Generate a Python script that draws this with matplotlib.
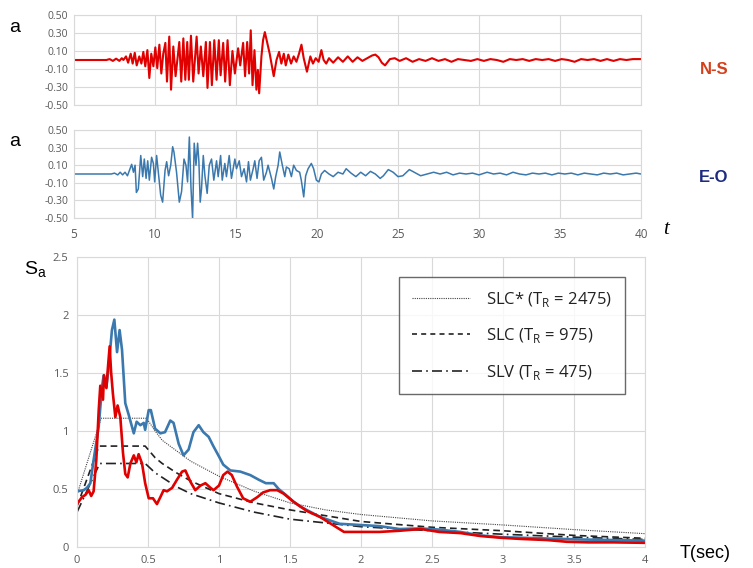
import matplotlib
matplotlib.use("Agg")
import matplotlib.pyplot as plt
from matplotlib.lines import Line2D

# ---------------- data ----------------
ns_t = [5.0, 7.0, 7.2, 7.4, 7.6, 7.8, 7.95, 8.05, 8.21, 8.34, 8.50, 8.62, 8.75, 8.87, 9.03, 9.16,
        9.28, 9.40, 9.53, 9.65, 9.77, 9.90, 10.02, 10.14, 10.27, 10.39, 10.51, 10.64, 10.74,
        10.88, 10.99, 11.13, 11.27, 11.42, 11.50, 11.62, 11.75, 11.87, 11.99, 12.09, 12.22,
        12.36, 12.46, 12.57, 12.69, 12.83, 12.98, 13.14, 13.24, 13.39, 13.51, 13.66, 13.80,
        13.94, 14.05, 14.21, 14.33, 14.48, 14.62, 14.78, 14.93, 15.13, 15.26, 15.44, 15.56,
        15.69, 15.81, 15.91, 16.02, 16.14, 16.26, 16.35, 16.43, 16.57, 16.67, 16.78, 16.92,
        17.08, 17.21, 17.33, 17.50, 17.66, 17.80, 17.95, 18.07, 18.23, 18.40, 18.56, 18.73,
        18.89, 19.04, 19.18, 19.38, 19.59, 19.75, 19.92, 20.10, 20.27, 20.41, 20.57, 20.74,
        21.0, 21.3, 21.6, 21.9, 22.2, 22.5, 22.8, 23.1, 23.4, 23.6, 23.8, 24.0, 24.2, 24.5,
        24.8, 25.1, 25.5, 25.9, 26.3, 26.7, 27.1, 27.5, 27.9, 28.3, 28.7, 29.1, 29.5, 29.9,
        30.3, 30.7, 31.1, 31.5, 31.9, 32.3, 32.7, 33.1, 33.5, 33.9, 34.3, 34.7, 35.1, 35.5,
        35.9, 36.3, 36.7, 37.1, 37.5, 37.9, 38.3, 38.7, 39.1, 39.5, 40.0]
ns_a = [0.0, 0.0, 0.01, -0.01, 0.015, -0.01, 0.02, 0.0, 0.04, -0.03, 0.07, -0.04, 0.08, -0.06, 0.04, -0.04,
        0.09, -0.07, 0.11, -0.20, 0.07, -0.07, 0.14, -0.09, 0.17, -0.15, 0.07, 0.19, -0.24,
        0.26, -0.33, 0.15, -0.18, 0.07, 0.20, -0.24, 0.24, -0.22, 0.20, -0.22, 0.27,
        -0.24, 0.0, 0.26, -0.15, 0.15, -0.18, 0.20, -0.31, 0.20, -0.28, 0.22, -0.22,
        0.22, -0.17, 0.19, -0.24, 0.22, -0.28, 0.10, -0.15, 0.13, -0.06, 0.19, -0.18,
        0.20, -0.15, 0.33, -0.28, 0.11, -0.33, -0.11, -0.37, 0.04, 0.22, 0.31, 0.20,
        0.07, -0.06, -0.18, 0.0, 0.09, -0.04, 0.07, -0.06, 0.06, -0.04, 0.04, -0.02,
        0.07, 0.17, 0.02, -0.13, 0.04, -0.04, 0.02, -0.02, 0.11, 0.0, -0.04, 0.02,
        -0.03, 0.03, -0.02, 0.04, -0.02, 0.03, -0.01, 0.02, 0.05, 0.06, 0.03, -0.03, -0.06, 0.01,
        0.02, -0.01, 0.02, -0.02, 0.01, -0.01, 0.02, -0.01, 0.01, -0.02, 0.01, 0.0, -0.01, 0.01,
        -0.01, 0.01, 0.0, -0.02, 0.01, 0.0, 0.01, -0.01, 0.01, 0.0, 0.01, -0.01, 0.01, 0.0,
        -0.02, 0.01, 0.0, 0.01, -0.01, 0.01, -0.01, 0.01, 0.0, 0.01, 0.01]

eo_t = [5.0, 7.3, 7.5, 7.7, 7.85, 8.0, 8.15, 8.3, 8.4, 8.46, 8.56, 8.67, 8.77, 8.85, 8.97, 9.12,
        9.24, 9.34, 9.45, 9.55, 9.65, 9.79, 9.90, 9.98, 10.10, 10.23, 10.35, 10.47, 10.62,
        10.72, 10.84, 10.97, 11.09, 11.17, 11.33, 11.50, 11.64, 11.79, 11.91, 12.01, 12.12,
        12.22, 12.32, 12.42, 12.53, 12.63, 12.71, 12.79, 12.87, 12.98, 13.08, 13.22, 13.35,
        13.49, 13.63, 13.80, 13.90, 14.05, 14.15, 14.31, 14.41, 14.58, 14.72, 14.93, 15.03,
        15.20, 15.34, 15.50, 15.65, 15.77, 15.89, 16.06, 16.16, 16.30, 16.43, 16.57, 16.71,
        16.88, 16.98, 17.19, 17.33, 17.45, 17.60, 17.70, 17.86, 18.01, 18.11, 18.28, 18.42,
        18.56, 18.73, 18.93, 19.03, 19.18, 19.30, 19.45, 19.65, 19.79, 19.96, 20.12, 20.27,
        20.47, 20.74, 21.0, 21.3, 21.6, 21.8, 22.1, 22.4, 22.7, 23.0, 23.3, 23.6, 23.9, 24.1,
        24.4, 24.7, 25.0, 25.3, 25.7, 26.0, 26.4, 26.8, 27.2, 27.6, 28.0, 28.4, 28.8, 29.2,
        29.6, 30.0, 30.5, 30.9, 31.3, 31.7, 32.1, 32.5, 32.9, 33.3, 33.7, 34.1, 34.5, 34.9,
        35.3, 35.7, 36.1, 36.5, 36.9, 37.3, 37.7, 38.1, 38.5, 38.9, 39.3, 39.7, 40.0]
eo_a = [0.0, 0.0, 0.01, -0.01, 0.02, -0.01, 0.02, -0.02, 0.03, 0.06, 0.11, 0.02, 0.10, -0.21, -0.17, 0.21,
        -0.03, 0.17, -0.05, 0.15, -0.07, 0.19, 0.12, -0.09, 0.21, -0.02, -0.24, -0.32, 0.04,
        0.14, -0.02, 0.10, 0.31, 0.25, 0.02, -0.32, -0.20, 0.17, 0.10, -0.09, 0.42,
        -0.15, -0.51, 0.35, 0.10, 0.35, 0.14, -0.32, -0.17, 0.21, -0.02, -0.22, 0.10,
        0.17, -0.07, 0.15, -0.03, 0.21, -0.07, 0.12, -0.03, 0.21, -0.05, 0.17, 0.06,
        0.15, -0.03, 0.06, -0.09, 0.14, -0.07, 0.06, 0.15, -0.05, 0.15, 0.19, -0.07,
        0.02, 0.10, -0.05, -0.17, -0.03, 0.10, 0.25, 0.10, -0.03, 0.08, 0.06, -0.03,
        0.10, 0.04, 0.02, -0.07, -0.26, -0.02, 0.06, 0.12, 0.06, -0.07, -0.09, 0.0,
        0.04, 0.0, -0.03, 0.02, 0.0, 0.06, 0.01, -0.03, 0.02, -0.02, 0.03, 0.0, -0.05, -0.02,
        0.05, 0.02, -0.03, -0.02, 0.05, 0.02, -0.02, 0.0, 0.02, 0.0, 0.02, -0.01, 0.01, 0.0,
        0.01, -0.01, 0.02, 0.0, 0.01, -0.01, 0.02, 0.0, -0.01, 0.01, 0.0, 0.01, -0.01, 0.01,
        0.0, 0.01, -0.01, 0.01, 0.0, -0.01, 0.01, 0.0, 0.01, -0.01, 0.0, 0.01, 0.0]

# response spectra (recorded)
sb_T = [0.0, 0.047, 0.07, 0.094, 0.117, 0.153, 0.176, 0.188, 0.207, 0.223, 0.246, 0.263, 0.282,
        0.30, 0.317, 0.34, 0.364, 0.40, 0.42, 0.446, 0.47, 0.48, 0.505, 0.52, 0.55, 0.587,
        0.62, 0.657, 0.68, 0.716, 0.75, 0.786, 0.82, 0.857, 0.89, 0.927, 0.96, 1.0, 1.03,
        1.08, 1.15, 1.22, 1.28, 1.33, 1.385, 1.42, 1.47, 1.525, 1.57, 1.71, 1.85, 1.99,
        2.13, 2.27, 2.42, 2.55, 2.70, 2.84, 2.98, 3.12, 3.26, 3.40, 3.54, 3.78, 4.0]
sb_Sa = [0.48, 0.49, 0.51, 0.55, 0.75, 1.04, 1.38, 1.48, 1.38, 1.55, 1.87, 1.96, 1.68,
         1.87, 1.70, 1.24, 1.14, 0.98, 1.08, 1.05, 1.07, 1.01, 1.18, 1.18, 1.02, 0.98,
         0.99, 1.09, 1.07, 0.89, 0.79, 0.84, 0.99, 1.05, 0.99, 0.95, 0.87, 0.78, 0.71,
         0.66, 0.65, 0.62, 0.58, 0.55, 0.55, 0.50, 0.45, 0.39, 0.35, 0.26, 0.20, 0.19,
         0.18, 0.155, 0.16, 0.15, 0.13, 0.10, 0.085, 0.08, 0.075, 0.07, 0.065, 0.06, 0.055]

sr_T = [0.0, 0.035, 0.06, 0.082, 0.10, 0.117, 0.136, 0.153, 0.164, 0.183, 0.19, 0.207, 0.218,
        0.23, 0.24, 0.253, 0.27, 0.286, 0.305, 0.324, 0.34, 0.357, 0.376, 0.40, 0.418, 0.434,
        0.458, 0.48, 0.505, 0.535, 0.563, 0.587, 0.61, 0.634, 0.67, 0.704, 0.74, 0.763, 0.80,
        0.833, 0.87, 0.904, 0.94, 0.962, 1.0, 1.03, 1.06, 1.09, 1.127, 1.17, 1.22, 1.27,
        1.31, 1.36, 1.41, 1.455, 1.525, 1.62, 1.71, 1.88, 2.13, 2.27, 2.42, 2.55, 2.70,
        2.84, 2.98, 3.12, 3.31, 3.45, 3.60, 3.78, 4.0]
sr_Sa = [0.37, 0.43, 0.45, 0.49, 0.44, 0.48, 0.75, 1.18, 1.39, 1.27, 1.48, 1.37, 1.55,
         1.73, 1.51, 1.32, 1.12, 1.22, 1.12, 0.81, 0.63, 0.60, 0.72, 0.79, 0.73, 0.80,
         0.72, 0.55, 0.42, 0.42, 0.37, 0.43, 0.49, 0.48, 0.51, 0.58, 0.65, 0.66, 0.56,
         0.49, 0.53, 0.55, 0.51, 0.49, 0.53, 0.62, 0.65, 0.62, 0.52, 0.42, 0.39, 0.43,
         0.47, 0.49, 0.49, 0.46, 0.39, 0.31, 0.26, 0.13, 0.13, 0.14, 0.155, 0.13, 0.12,
         0.095, 0.08, 0.07, 0.06, 0.045, 0.04, 0.04, 0.036]

# code spectra
slcs_T = [0.0, 0.17, 0.49, 0.55, 0.6, 0.7, 0.8, 1.0, 1.25, 1.5, 1.75, 2.0, 2.5, 3.0, 3.5, 4.0]
slcs_Sa = [0.45, 1.11, 1.11, 1.0, 0.92, 0.83, 0.74, 0.61, 0.48, 0.38, 0.32, 0.28, 0.225, 0.19, 0.15, 0.115]
slc_T = [0.0, 0.155, 0.48, 0.55, 0.6, 0.7, 0.8, 1.0, 1.25, 1.5, 2.0, 2.5, 3.0, 3.5, 4.0]
slc_Sa = [0.35, 0.87, 0.87, 0.77, 0.72, 0.64, 0.57, 0.46, 0.38, 0.32, 0.22, 0.17, 0.14, 0.10, 0.075]
slv_T = [0.0, 0.16, 0.48, 0.55, 0.6, 0.7, 0.8, 1.0, 1.25, 1.5, 2.0, 2.5, 3.0, 3.5, 4.0]
slv_Sa = [0.30, 0.72, 0.72, 0.64, 0.60, 0.52, 0.46, 0.38, 0.30, 0.24, 0.175, 0.14, 0.11, 0.085, 0.065]

legend_labels = ["SLC* (T$_\\mathregular{R}$ = 2475)", "SLC (T$_\\mathregular{R}$ = 975)",
                 "SLV (T$_\\mathregular{R}$ = 475)"]

# ---------------- figure ----------------
W, H = 753, 568
fig = plt.figure(figsize=(W / 100, H / 100), dpi=100)
plt.rcParams['font.family'] = ['Open Sans', 'DejaVu Sans']

def fx(px):
    return px / W

def fy(py):
    return 1 - py / H

grid_c = '#d9d9d9'
tick_c = '#595959'

def style(ax):
    for s in ax.spines.values():
        s.set_color(grid_c)
        s.set_linewidth(0.8)
    ax.grid(True, color=grid_c, linewidth=0.8)
    ax.set_axisbelow(True)
    ax.tick_params(length=0, colors=tick_c, labelsize=7.5, pad=4)

red = '#e00000'
blue = '#3a78ad'

ax1 = fig.add_axes([fx(74), fy(105), fx(641 - 74), (105 - 15) / H])
ax1.plot(ns_t, ns_a, color=red, lw=1.5)
ax1.set_xlim(5, 40)
ax1.set_ylim(-0.5, 0.5)
ax1.set_yticks([-0.5, -0.3, -0.1, 0.1, 0.3, 0.5])
ax1.set_yticklabels(['%.2f' % v for v in [-0.5, -0.3, -0.1, 0.1, 0.3, 0.5]])
ax1.set_xticks([5, 10, 15, 20, 25, 30, 35, 40])
ax1.set_xticklabels([])
style(ax1)

ax2 = fig.add_axes([fx(74), fy(218), fx(641 - 74), (218 - 130) / H])
ax2.plot(eo_t, eo_a, color=blue, lw=1.1)
ax2.set_xlim(5, 40)
ax2.set_ylim(-0.5, 0.5)
ax2.set_yticks([-0.5, -0.3, -0.1, 0.1, 0.3, 0.5])
ax2.set_yticklabels(['%.2f' % v for v in [-0.5, -0.3, -0.1, 0.1, 0.3, 0.5]])
ax2.set_xticks([5, 10, 15, 20, 25, 30, 35, 40])
style(ax2)
ax2.tick_params(axis='x', labelsize=8.5, pad=7)

ax3 = fig.add_axes([fx(77), fy(547), fx(645 - 77), (547 - 257) / H])
ax3.plot(slcs_T, slcs_Sa, color='#444444', lw=0.8, ls=(0, (1, 1)))
ax3.plot(slc_T, slc_Sa, color='#222222', lw=1.2, ls=(0, (4, 2.5)))
ax3.plot(slv_T, slv_Sa, color='#222222', lw=1.2, ls=(0, (6, 2.5, 1, 2.5)))
ax3.plot(sb_T, sb_Sa, color=blue, lw=1.9)
ax3.plot(sr_T, sr_Sa, color=red, lw=1.9)
ax3.set_xlim(0, 4)
ax3.set_ylim(0, 2.5)
ax3.set_xticks([0, 0.5, 1, 1.5, 2, 2.5, 3, 3.5, 4])
ax3.set_xticklabels(['0', '0.5', '1', '1.5', '2', '2.5', '3', '3.5', '4'])
ax3.set_yticks([0, 0.5, 1, 1.5, 2, 2.5])
ax3.set_yticklabels(['0', '0.5', '1', '1.5', '2', '2.5'])
style(ax3)
ax3.tick_params(labelsize=8, pad=6)

h1 = Line2D([], [], color='#444444', lw=0.8, ls=(0, (1, 1)))
h2 = Line2D([], [], color='#222222', lw=1.2, ls=(0, (3, 2.5)))
h3 = Line2D([], [], color='#222222', lw=1.2, ls=(0, (6, 2.5, 1, 2.5)))
leg = ax3.legend([h1, h2, h3], legend_labels, loc='upper left',
                 bbox_to_anchor=(fx(399), fy(277)), bbox_transform=fig.transFigure,
                 fontsize=12, frameon=True, fancybox=False, handlelength=3.5,
                 handletextpad=1.0, labelspacing=1.05, borderpad=0.75, borderaxespad=0)
leg.get_frame().set_edgecolor('#444444')
leg.get_frame().set_linewidth(1.0)
for t in leg.get_texts():
    t.set_color('#222222')

# labels
fig.text(fx(15), fy(28), 'a', fontsize=14, family='Liberation Sans', va='center', ha='center')
fig.text(fx(15), fy(142), 'a', fontsize=14, family='Liberation Sans', va='center', ha='center')
fig.text(fx(714), fy(70), 'N-S', fontsize=12, fontweight='bold', family='Liberation Sans',
         color='#d4401c', va='center', ha='center')
fig.text(fx(714), fy(177), 'E-O', fontsize=12, fontweight='bold', family='Liberation Sans',
         color='#1c2a80', va='center', ha='center')
fig.text(fx(666), fy(230), 't', fontsize=15, style='italic', family='Liberation Serif',
         va='center', ha='center')
fig.text(fx(24), fy(270), 'S$_\\mathregular{a}$', fontsize=14, family='Liberation Sans',
         va='center', ha='left')
fig.text(fx(705), fy(553), 'T(sec)', fontsize=13, family='Liberation Sans', va='center', ha='center')

fig.savefig('out.png', dpi=100)
